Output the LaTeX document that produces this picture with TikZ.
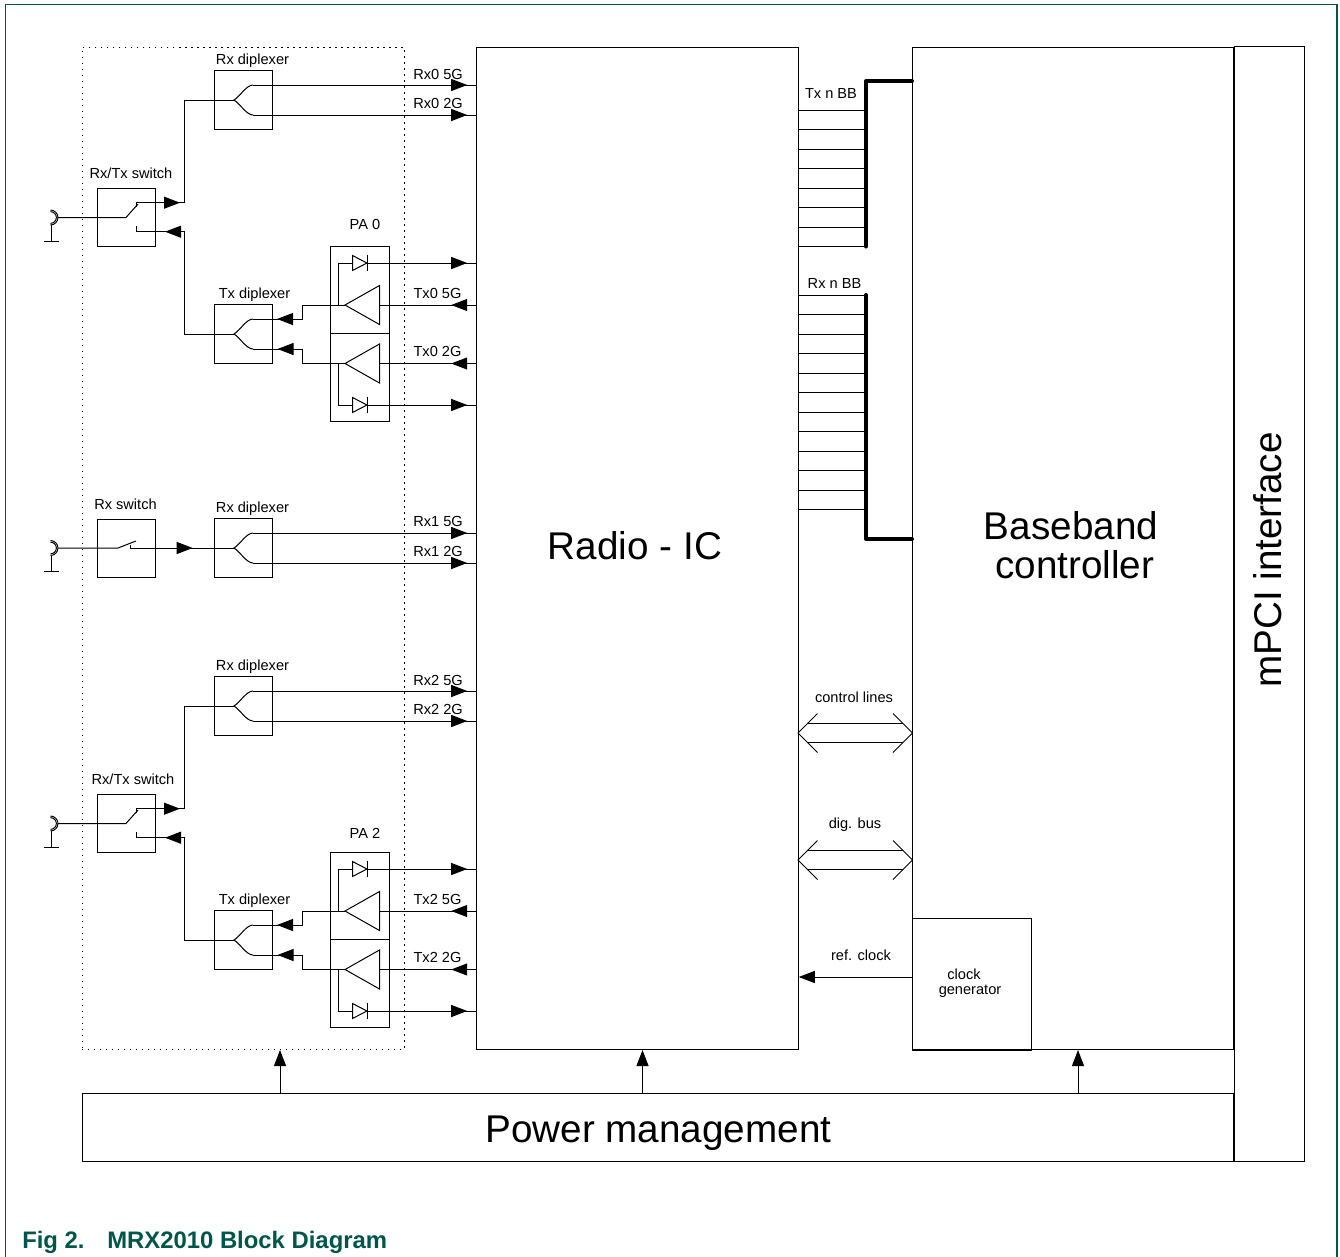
\documentclass[tikz,border=0pt]{standalone}
\usepackage{fontspec}
\setmainfont{Liberation Sans}
\usepackage{xcolor}
\usetikzlibrary{arrows.meta, decorations.markings}
\definecolor{framegreen}{HTML}{00564B}

\newcommand{\diplexer}[2]{%
    \node[block, boxsize={58.5}{58.5}] (#1) at (243.25,#2) {};
    \coordinate (#1in) at (234,#2);
    \coordinate (#1a) at (253,#2-15);
    \coordinate (#1b) at (253,#2+15);
    \draw[wire] (#1a) to[out=180, in=30, looseness=0.7] (#1in) to[out=-30, in=180, looseness=0.7] (#1b);
}
\newcommand{\antenna}[2]{%
    \coordinate (#1) at (58,#2);
    \draw[wire] (50.5,#2) ++(-90:5.6pt) arc[start angle=-90, end angle=90, radius=5.6pt];
    \draw[wire] (50.5,#2) ++(-90:4.4pt) arc[start angle=-90, end angle=90, radius=4.4pt];
    \draw[wire] (51,#2+7.5) -- ++(0,16) ++(-7.5,0) -- ++(15,0);
}
\newcommand{\amplifier}[2]{%
    \coordinate (#1out) at (345,#2);
    \coordinate (#1in) at (379.5,#2);
    \draw[wire] (#1out) -- (379.5,#2-19.5) -- (379.5,#2+19.5) -- cycle;
}
\newcommand{\diode}[2]{%
    \coordinate (#1in) at (352.5,#2);
    \coordinate (#1out) at (367,#2);
    \draw[wire] (352.5,#2-7.5) -- (#1out) -- (352.5,#2+7.5) -- cycle;
    \draw[wire] (367,#2-8) -- (367,#2+8);
}
\newcommand{\hollowbus}[2]{%
    \coordinate (#1l) at (798,#2);
    \coordinate (#1r) at (912.5,#2);
    \draw[wire] (#1l) ++(19.5,-19.5) -- (#1l) -- ++(19.5,19.5);
    \draw[wire] (#1r) ++(-19.5,-19.5) -- (#1r) -- ++(-19.5,19.5);
    \draw[wire] (#1l) ++(10,-9.7) -- ++(94.5,0);
    \draw[wire] (#1l) ++(10,9.7) -- ++(94.5,0);
}

\begin{document}
\begin{tikzpicture}[x=0.75pt, y=-0.75pt, >={Triangle[length=12pt, width=9pt]},
    wire/.style={line width=0.75pt},
    thickbus/.style={line width=3pt, line join=round, line cap=round},
    block/.style={draw, line width=0.75pt, inner sep=0pt},
    boxsize/.style 2 args={minimum width=#1*0.75pt, minimum height=#2*0.75pt},
    tipat/.style={postaction={decorate}, decoration={markings, mark=at position #1 with {\arrow{>}}}},
    lbl/.style={font=\fontsize{10.95}{11.6}\selectfont, inner sep=0pt, align=center},
    big/.style={font=\fontsize{29}{29.25}\selectfont, inner sep=0pt, align=center}]
    \useasboundingbox (0,0) rectangle (1340,1257);

    \draw[framegreen, line width=1pt] (5.3,1257) -- (5.3,4.7) -- (1337,4.7) -- (1337,1257);

    \node[draw, line width=0.75pt, dash pattern=on 1pt off 3.5pt, inner sep=0pt, boxsize={322}{1002.5}] (rfbox) at (243,548.25) {};
    \node[block, boxsize={322}{1002.5}] (radio) at (637.25,548.25) {};
    \node[block, boxsize={321}{1002.5}] (bb) at (1073,548.25) {};
    \node[block, boxsize={119.5}{132}] (clk) at (972,984) {};
    \node[block, boxsize={70.5}{1115}] (mpci) at (1269.25,604.25) {};
    \node[block, boxsize={1151.5}{68}] (power) at (658,1127.75) {};

    \node[big] (radiotxt) at (635,546) {Radio - IC};
    \node[big] (bbtxt) at (1071,545) {Baseband\\\hspace*{5.75pt}controller};
    \node[big, rotate=90] (mpcitxt) at (1268,560) {mPCI interface};
    \node[big] (powertxt) at (658.5,1133) {Power management};
    \node[lbl] (clktxt) at (970,983) {clock\hspace*{9pt}\\generator};

    \foreach \n/\dy/\swo/\pao in {0/0/0/0, 2/606/2/3} {
        \begin{scope}[shift={(0,\dy)}]
            \antenna{ant\n}{217.5}
            \node[block, boxsize={58.5}{58.5}] (sw\n) at (126.25,217.5) {};
            \coordinate (sw\n hinge) at (126,217.5);
            \coordinate (sw\n blade) at (138,204);
            \coordinate (sw\n up) at (136,202.7);
            \coordinate (sw\n upb) at (136,207);
            \coordinate (sw\n dn) at (136,231.7);
            \coordinate (sw\n dnb) at (136,226);
            \diplexer{rx\n}{100}
            \diplexer{tx\n}{334}

            \node[block, boxsize={58.5}{87.5}] (pa\n u) at (359.75,289.75) {};
            \node[block, boxsize={58.5}{87.5}] (pa\n l) at (359.75,377.25) {};
            \amplifier{amp\n u}{305}
            \amplifier{amp\n l}{363.5}
            \diode{dio\n u}{263}
            \diode{dio\n l}{405}

            \draw[wire] (ant\n) -- (sw\n hinge) -- (sw\n blade);
            \draw[wire] (sw\n upb) -- (sw\n up);
            \draw[wire] (sw\n dnb) -- (sw\n dn);
            \draw[wire, tipat=33pt] (sw\n up) -- ++(48,0) |- (rx\n in);
            \draw[wire, tipat=-21.75pt] (tx\n in) -- ++(-50,0) |- (sw\n dn);
            \draw[wire, tipat=-6.4pt] (rx\n a) -- (radio.west |- rx\n a);
            \draw[wire, tipat=-6.4pt] (rx\n b) -- (radio.west |- rx\n b);
            \draw[wire, tipat=18.4pt] (radio.west |- amp\n uin) -- (amp\n uin);
            \draw[wire, tipat=18.4pt] (radio.west |- amp\n lin) -- (amp\n lin);
            \draw[wire, tipat=61.5pt] (amp\n uout) -- ++(-43,0) |- (tx\n a);
            \draw[wire, tipat=61.5pt] (amp\n lout) -- ++(-43,0) |- (tx\n b);
            \draw[wire] (amp\n uout) -- ++(-7,0) |- (dio\n uin);
            \draw[wire] (amp\n lout) -- ++(-7,0) |- (dio\n lin);
            \draw[wire, tipat=-6.4pt] (dio\n uout) -- (radio.west |- dio\n uout);
            \draw[wire, tipat=-6.4pt] (dio\n lout) -- (radio.west |- dio\n lout);

            \node[lbl] (rx\n lbl) at (252.5,61) {Rx diplexer};
            \node[lbl] (tx\n lbl) at (254.5,295) {Tx diplexer};
            \node[lbl] (sw\n lbl) at (131+\swo,173) {Rx/Tx switch};
            \node[lbl] (pa\n lbl) at (365,224+\pao) {PA \n};
            \node[lbl] (rx\n a lbl) at (438,74) {Rx\n\ 5G};
            \node[lbl] (rx\n b lbl) at (438,103) {Rx\n\ 2G};
            \node[lbl] (tx\n a lbl) at (437.5,293) {Tx\n\ 5G};
            \node[lbl] (tx\n b lbl) at (437.5,351) {Tx\n\ 2G};
        \end{scope}
    }

    \antenna{ant1}{548}
    \node[block, boxsize={58.5}{58.5}] (sw1) at (126.25,548.25) {};
    \coordinate (sw1hinge) at (118,548);
    \coordinate (sw1blade) at (136,541);
    \coordinate (sw1out) at (130.7,545);
    \diplexer{rx1}{548}
    \draw[wire] (ant1) -- (sw1hinge) -- (sw1blade);
    \draw[wire, tipat=48.75pt] (sw1out) |- (rx1in);
    \draw[wire, tipat=-6.4pt] (rx1a) -- (radio.west |- rx1a);
    \draw[wire, tipat=-6.4pt] (rx1b) -- (radio.west |- rx1b);
    \node[lbl] (sw1lbl) at (125.5,504) {Rx switch};
    \node[lbl] (rx1lbl) at (252.5,509) {Rx diplexer};
    \node[lbl] (rx1albl) at (438,521) {Rx1 5G};
    \node[lbl] (rx1blbl) at (438,551) {Rx1 2G};

    \coordinate (txtop) at (866,81);
    \coordinate (txend) at (866,246.5);
    \coordinate (rxtop) at (866,295);
    \coordinate (rxend) at (866,539);
    \draw[thickbus] (bb.west |- txtop) -- (txtop) -- (txend);
    \draw[thickbus] (rxtop) -- (rxend) -- (bb.west |- rxend);
    \foreach \ly in {110,129.5,...,247} {
        \draw[wire] (radio.east |- 0,\ly) -- (txtop |- 0,\ly);
    }
    \foreach \ly in {295,314.5,...,510} {
        \draw[wire] (radio.east |- 0,\ly) -- (rxtop |- 0,\ly);
    }
    \node[lbl] (txbblbl) at (831,93) {Tx n BB};
    \node[lbl] (rxbblbl) at (834.5,283) {Rx n BB};

    \hollowbus{ctrl}{733}
    \hollowbus{dig}{860}
    \node[lbl] (ctrllbl) at (854,697) {control lines};
    \node[lbl] (diglbl) at (855,825) {dig. bus};

    \draw[wire, ->] (clk.west |- 0,977) -- (radio.east |- 0,977);
    \node[lbl] (reflbl) at (861,955) {ref. clock};

    \path[wire, ->]
        (280,0 |- power.north) edge (280,0 |- rfbox.south)
        (642.5,0 |- power.north) edge (642.5,0 |- radio.south)
        (1078,0 |- power.north) edge (1078,0 |- bb.south);

    \node[anchor=west, inner sep=0pt, text=framegreen, font=\fontsize{17.9}{20}\selectfont\bfseries] (figcaption) at (22,1242) {Fig 2.\hspace*{17pt}MRX2010 Block Diagram};
\end{tikzpicture}
\end{document}
